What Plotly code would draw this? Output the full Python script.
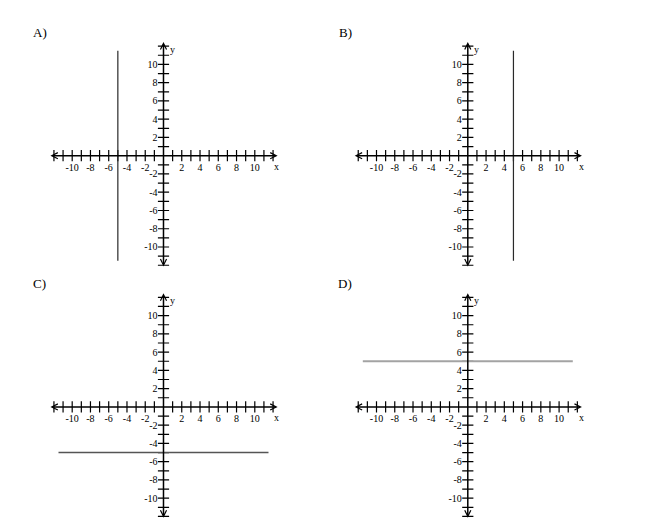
import plotly.graph_objects as go

# the four answer choices, each one a single straight line
panel_names = ["A)", "B)", "C)", "D)"]
line_x = [[-5, -5], [5, 5], [-11.5, 11.5], [-11.5, 11.5]]
line_y = [[-11.5, 11.5], [-11.5, 11.5], [-5, -5], [5, 5]]
line_colors = ["#2a2a2a", "#2a2a2a", "#555555", "#a3a3a3"]
line_widths = [1.2, 1.2, 1.4, 2]

# axis ticks: a mark at every integer, a label at every even one
tick_vals = [k for k in range(-12, 13) if k != 0]
label_vals = [-10, -8, -6, -4, -2, 2, 4, 6, 8, 10]
label_text = ["-10", "-8", "-6", "-4", "-2", "2", "4", "6", "8", "10"]

W, H = 650, 524
S = 9.13      # pixels per unit
R = 12.8      # half range of each axis
centers = [(163.5, 155.7), (467.8, 155.7), (163.5, 406.9), (467.8, 406.9)]
label_pos = [(31, 33), (337, 33), (31, 283), (336, 283)]

fig = go.Figure()
layout = dict(width=W, height=H, margin=dict(l=0, r=0, t=0, b=0),
              paper_bgcolor="white", plot_bgcolor="white", showlegend=False)
annots = []
tfont = dict(family="Liberation Serif", size=10, color="black")

for i in range(4):
    n = "" if i == 0 else str(i + 1)
    xa, ya = "x" + n, "y" + n
    cx, cy = centers[i]
    xdom = [(cx - R * S) / W, (cx + R * S) / W]
    ydom = [max(0, 1 - (cy + R * S) / H), min(1, 1 - (cy - R * S) / H)]

    layout["xaxis" + n] = dict(domain=xdom, range=[-R, R], anchor="free",
                               position=1 - cy / H, showgrid=False, zeroline=False,
                               showline=False, tickvals=label_vals, ticktext=label_text,
                               ticks="outside", ticklen=2, tickcolor="rgba(0,0,0,0)",
                               tickfont=tfont, fixedrange=True)
    layout["yaxis" + n] = dict(domain=ydom, range=[-R, R], anchor="free",
                               position=cx / W, showgrid=False, zeroline=False,
                               showline=False, tickvals=label_vals, ticktext=label_text,
                               ticks="outside", ticklen=4, tickcolor="rgba(0,0,0,0)",
                               tickfont=tfont, fixedrange=True)

    # tick marks crossing the axes
    fig.add_trace(go.Scatter(x=tick_vals, y=[0] * len(tick_vals), xaxis=xa, yaxis=ya,
                             mode="markers", hoverinfo="skip",
                             marker=dict(symbol="line-ns", size=8,
                                         line=dict(width=1.2, color="black"))))
    fig.add_trace(go.Scatter(x=[0] * len(tick_vals), y=tick_vals, xaxis=xa, yaxis=ya,
                             mode="markers", hoverinfo="skip",
                             marker=dict(symbol="line-ew", size=8,
                                         line=dict(width=1.2, color="black"))))

    # the graphed line
    fig.add_trace(go.Scatter(x=line_x[i], y=line_y[i], xaxis=xa, yaxis=ya, mode="lines",
                             hoverinfo="skip",
                             line=dict(color=line_colors[i], width=line_widths[i])))

    # axes with arrow heads on both ends
    for (x0, y0, x1, y1) in [(-12.55, 0, 12.5, 0), (0, -12.3, 0, 12.45)]:
        annots.append(dict(x=x1, y=y1, ax=x0, ay=y0, xref=xa, yref=ya, axref=xa, ayref=ya,
                           text="", showarrow=True, arrowside="end+start",
                           arrowhead=5, startarrowhead=5, arrowsize=0.8,
                           startarrowsize=0.8, arrowwidth=1.5, arrowcolor="black",
                           standoff=0, startstandoff=0))
    annots.append(dict(x=12.4, y=-1.2, xref=xa, yref=ya, text="x", showarrow=False,
                       font=tfont))
    annots.append(dict(x=0.95, y=11.6, xref=xa, yref=ya, text="y", showarrow=False,
                       font=tfont))

    lx, ly = label_pos[i]
    annots.append(dict(x=lx / W, y=1 - ly / H, xref="paper", yref="paper",
                       xanchor="left", yanchor="middle", text=panel_names[i],
                       showarrow=False,
                       font=dict(family="Liberation Serif", size=13, color="black")))

layout["annotations"] = annots
fig.update_layout(**layout)
fig.write_html("out.html", config={"displayModeBar": False},
               post_script="document.body.style.margin='0';")
